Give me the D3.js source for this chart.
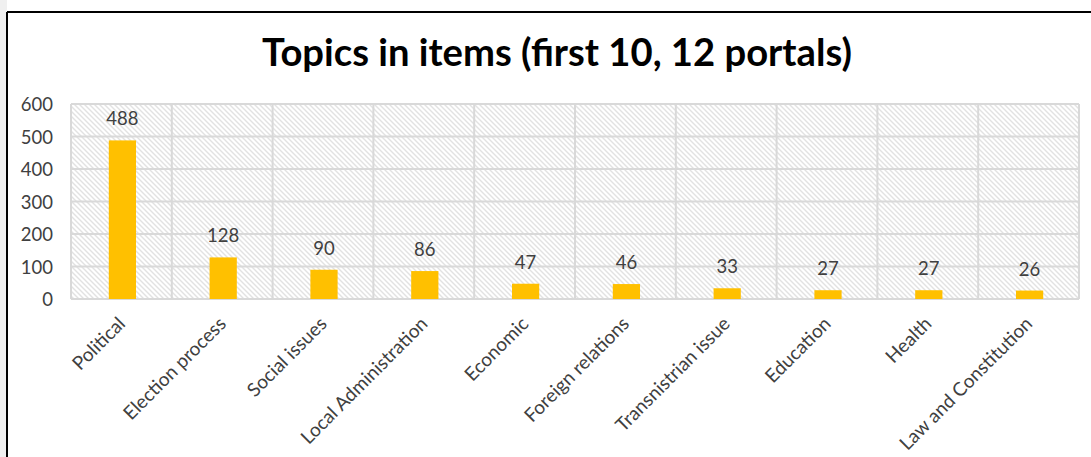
<!DOCTYPE html>
<html>
<head>
<meta charset="utf-8">
<script src="https://cdn.jsdelivr.net/npm/d3@7"></script>
<style>
  html, body { margin: 0; padding: 0; background: #fff; }
  svg { display: block; }
</style>
</head>
<body>
<svg id="chart" width="1091" height="457"></svg>
<script>
// Topic counts across the first 10 items of 12 portals
const categories = ["Political", "Election process", "Social issues", "Local Administration",
  "Economic", "Foreign relations", "Transnistrian issue", "Education", "Health", "Law and Constitution"];
const counts = [488, 128, 90, 86, 47, 46, 33, 27, 27, 26];
const yTicks = [0, 100, 200, 300, 400, 500, 600];
const titleText = "Topics in items (first 10, 12 portals)";

const W = 1091, H = 457;
const font = "Lato, 'Open Sans', sans-serif";
const plot = { left: 71, right: 1079, top: 104, bottom: 299 };

const svg = d3.select("#chart");

// page frame: grey strip on the left, black border
svg.append("rect").attr("x", 0).attr("y", 0).attr("width", 7).attr("height", H).attr("fill", "#f0f0f0");
svg.append("line").attr("x1", 7).attr("x2", 7).attr("y1", 12).attr("y2", H)
  .attr("stroke", "#000").attr("stroke-width", 2);
svg.append("line").attr("x1", 7).attr("x2", W).attr("y1", 12).attr("y2", 12)
  .attr("stroke", "#000").attr("stroke-width", 2);

// diagonal hatch fill for the plot area
const defs = svg.append("defs");
const pat = defs.append("pattern").attr("id", "hatch").attr("patternUnits", "userSpaceOnUse")
  .attr("width", 5).attr("height", 5);
pat.append("rect").attr("width", 5).attr("height", 5).attr("fill", "#fff");
pat.append("path").attr("d", "M-1,-1 L6,6 M-1,4 L1,6 M4,-1 L6,1")
  .attr("stroke", "#e2e2e2").attr("stroke-width", 1.4);

const x = d3.scaleBand().domain(categories).range([plot.left, plot.right]).paddingInner(0).paddingOuter(0);
const y = d3.scaleLinear().domain([0, 600]).range([plot.bottom, plot.top]);

svg.append("rect").attr("x", plot.left).attr("y", plot.top)
  .attr("width", plot.right - plot.left).attr("height", plot.bottom - plot.top)
  .attr("fill", "url(#hatch)");

// horizontal gridlines
svg.append("g").selectAll("line").data(yTicks).join("line")
  .attr("x1", plot.left).attr("x2", plot.right)
  .attr("y1", d => y(d)).attr("y2", d => y(d))
  .attr("stroke", "#d9d9d9").attr("stroke-width", 2);

// vertical category separators
const seps = categories.map(c => x(c)).concat([plot.right]);
svg.append("g").selectAll("line").data(seps).join("line")
  .attr("x1", d => d).attr("x2", d => d)
  .attr("y1", plot.top).attr("y2", plot.bottom)
  .attr("stroke", "#d9d9d9").attr("stroke-width", 2);

// y axis labels
const yAxis = d3.axisLeft(y).tickValues(yTicks).tickSize(0).tickPadding(18);
const gy = svg.append("g").attr("transform", `translate(${plot.left},1)`).call(yAxis);
gy.select(".domain").remove();
gy.selectAll("text").attr("font-family", font).attr("font-size", 18.5).attr("fill", "#404040");

// bars
const barW = x.bandwidth() * 0.27;
svg.append("g").selectAll("rect").data(counts).join("rect")
  .attr("x", (d, i) => x(categories[i]) + x.bandwidth() / 2 - barW / 2 + 1)
  .attr("y", d => y(d))
  .attr("width", barW)
  .attr("height", d => y(0) - y(d))
  .attr("fill", "#FFC000");

// value labels
svg.append("g").selectAll("text").data(counts).join("text")
  .attr("x", (d, i) => x(categories[i]) + x.bandwidth() / 2 + 1)
  .attr("y", d => y(d) - 15)
  .attr("text-anchor", "middle")
  .attr("font-family", font).attr("font-size", 18.5).attr("fill", "#404040")
  .text(d => d);

// rotated category labels
const xAxis = d3.axisBottom(x).tickSize(0).tickPadding(0);
const gx = svg.append("g").attr("transform", `translate(0,${plot.bottom})`).call(xAxis);
gx.select(".domain").remove();
gx.selectAll("text")
  .attr("font-family", font).attr("font-size", 19).attr("fill", "#404040")
  .attr("text-anchor", "end")
  .attr("dy", 0).attr("y", 0)
  .attr("transform", "translate(5,26) rotate(-45)");

// title
const title = svg.append("text")
  .attr("x", 557).attr("y", 66)
  .attr("text-anchor", "middle")
  .attr("font-family", font).attr("font-weight", "bold").attr("font-size", 34)
  .attr("fill", "#000")
  .text(titleText);
const tw = title.node().getComputedTextLength();
title.attr("font-size", 34 * 590 / tw);
</script>
</body>
</html>
